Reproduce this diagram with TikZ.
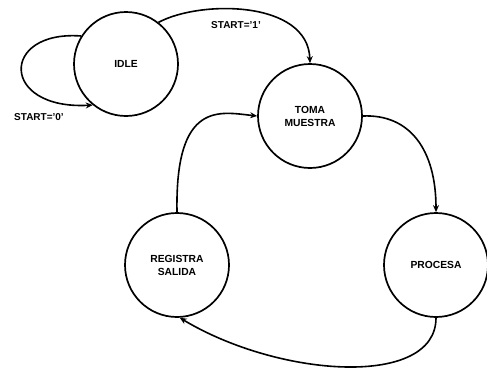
\documentclass[tikz,border=0pt]{standalone}
\usepackage{fontspec}
\setmainfont{Liberation Sans}
\usetikzlibrary{arrows.meta}
\begin{document}
\begin{tikzpicture}[x=1pt,y=-1pt,
  state/.style={draw,circle,line width=1.7pt,minimum size=104pt,inner sep=0pt,align=center,font=\fontsize{10.3}{13}\selectfont\bfseries},
  lbl/.style={font=\fontsize{10}{12}\selectfont\bfseries},
  conn/.style={line width=1.6pt,-{Stealth[length=7pt,width=6pt]}}]
\useasboundingbox (0,0) rectangle (487,370);
\node[state] (idle) at (126,64) {IDLE};
\node[state] (toma) at (310,116) {TOMA\\MUESTRA};
\node[state] (reg) at (177,265) {REGISTRA\\SALIDA};
\node[state] (proc) at (436,265) {PROCESA};
\node[lbl] (l0) at (39,117) {START='0'};
\node[lbl] (l1) at (236,25) {START='1'};
\draw[conn] (idle.148) .. controls (0,30) and (0,110) .. (idle.231);
\draw[conn] (idle.52) .. controls (200,0) and (308,0) .. (toma.north);
\draw[conn] (toma.east) .. controls (410,114) and (436,150) .. (proc.north);
\draw[conn] (proc.south) .. controls (436,388) and (280,378) .. (reg.273);
\draw[conn] (reg.north) .. controls (175,100) and (220,112) .. (toma.west);
\end{tikzpicture}
\end{document}
